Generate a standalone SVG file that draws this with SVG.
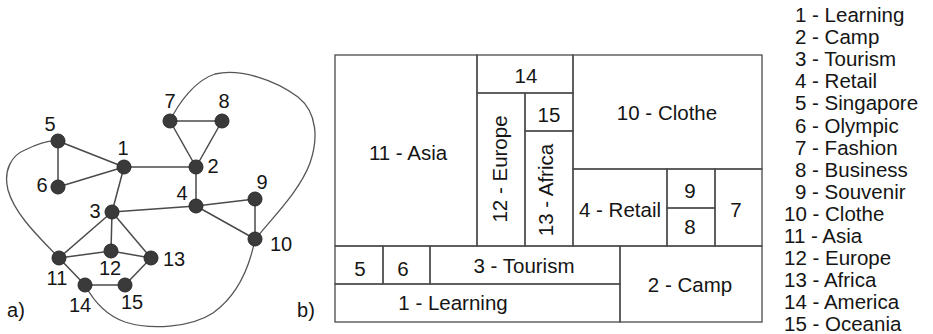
<svg xmlns="http://www.w3.org/2000/svg" width="933" height="334" viewBox="0 0 933 334">
<style>
text{font-family:"Liberation Sans",Arial,sans-serif;fill:#151515}
.gl{font-size:20px;text-anchor:middle}
.tm{font-size:20.5px;text-anchor:middle}
.lg{font-size:20.5px}
.edge{stroke:#4a4a4a;stroke-width:1.5;fill:none}
.hull{stroke:#555;stroke-width:1.3;fill:none}
.node{fill:#3a3a3a;stroke:#2a2a2a;stroke-width:1}
.cell{fill:none;stroke:#4a4a4a;stroke-width:1.3}
</style>
<rect width="933" height="334" fill="#fff"/>
<g id="connectors">
<path class="hull" d="M170,121 C178,104 195,80 215,74 C240,68 275,80 298,97 C318,113 318,140 310,163 C300,190 275,215 257,237"/>
<path class="hull" d="M255,239 C250,265 238,295 213,313 C190,328 150,330 125,322 C105,315 93,300 85,285"/>
<path class="hull" d="M59,258 C40,238 15,215 8,190 C3,170 12,155 25,150 C35,145 48,140 58,141"/>
<line class="edge" x1="58" y1="141" x2="124" y2="167"/>
<line class="edge" x1="58" y1="141" x2="58" y2="187"/>
<line class="edge" x1="58" y1="187" x2="124" y2="167"/>
<line class="edge" x1="124" y1="167" x2="196" y2="167"/>
<line class="edge" x1="124" y1="167" x2="112" y2="212"/>
<line class="edge" x1="196" y1="167" x2="170" y2="121"/>
<line class="edge" x1="196" y1="167" x2="222" y2="121"/>
<line class="edge" x1="170" y1="121" x2="222" y2="121"/>
<line class="edge" x1="196" y1="167" x2="196" y2="206"/>
<line class="edge" x1="196" y1="206" x2="112" y2="212"/>
<line class="edge" x1="196" y1="206" x2="255" y2="199"/>
<line class="edge" x1="196" y1="206" x2="255" y2="239"/>
<line class="edge" x1="255" y1="199" x2="255" y2="239"/>
<line class="edge" x1="112" y1="212" x2="59" y2="258"/>
<line class="edge" x1="112" y1="212" x2="111" y2="251"/>
<line class="edge" x1="112" y1="212" x2="151" y2="258"/>
<line class="edge" x1="59" y1="258" x2="111" y2="251"/>
<line class="edge" x1="111" y1="251" x2="151" y2="258"/>
<line class="edge" x1="59" y1="258" x2="85" y2="285"/>
<line class="edge" x1="151" y1="258" x2="125" y2="285"/>
<line class="edge" x1="85" y1="285" x2="125" y2="285"/>
</g>
<g id="n1"><circle class="node" cx="124" cy="167" r="7"/><text class="gl" x="123" y="155">1</text></g>
<g id="n2"><circle class="node" cx="196" cy="167" r="7"/><text class="gl" x="213" y="173">2</text></g>
<g id="n3"><circle class="node" cx="112" cy="212" r="7"/><text class="gl" x="95" y="218">3</text></g>
<g id="n4"><circle class="node" cx="196" cy="206" r="7"/><text class="gl" x="182" y="200">4</text></g>
<g id="n5"><circle class="node" cx="58" cy="141" r="7"/><text class="gl" x="50" y="131">5</text></g>
<g id="n6"><circle class="node" cx="58" cy="187" r="7"/><text class="gl" x="42" y="192">6</text></g>
<g id="n7"><circle class="node" cx="170" cy="121" r="7"/><text class="gl" x="170" y="108">7</text></g>
<g id="n8"><circle class="node" cx="222" cy="121" r="7"/><text class="gl" x="224" y="108">8</text></g>
<g id="n9"><circle class="node" cx="255" cy="199" r="7"/><text class="gl" x="262" y="189">9</text></g>
<g id="n10"><circle class="node" cx="255" cy="239" r="7"/><text class="gl" x="281" y="251">10</text></g>
<g id="n11"><circle class="node" cx="59" cy="258" r="7"/><text class="gl" x="57" y="285">11</text></g>
<g id="n12"><circle class="node" cx="111" cy="251" r="7"/><text class="gl" x="110" y="275">12</text></g>
<g id="n13"><circle class="node" cx="151" cy="258" r="7"/><text class="gl" x="174" y="266">13</text></g>
<g id="n14"><circle class="node" cx="85" cy="285" r="7"/><text class="gl" x="80" y="312">14</text></g>
<g id="n15"><circle class="node" cx="125" cy="285" r="7"/><text class="gl" x="132" y="309">15</text></g>
<text class="gl" x="16" y="317">a)</text>
<text class="gl" x="306" y="317">b)</text>
<g id="cell11"><rect class="cell" x="335" y="55" width="142" height="191"/><text class="tm" x="408" y="160">11 - Asia</text></g>
<g id="cell14"><rect class="cell" x="477" y="55" width="96" height="38"/><text class="tm" x="526" y="83">14</text></g>
<g id="cell12"><rect class="cell" x="477" y="93" width="48" height="153"/><text class="tm" transform="translate(507,169) rotate(-90)">12 - Europe</text></g>
<g id="cell15"><rect class="cell" x="525" y="93" width="48" height="38"/><text class="tm" x="549" y="122">15</text></g>
<g id="cell13"><rect class="cell" x="525" y="131" width="48" height="115"/><text class="tm" transform="translate(553,190) rotate(-90)">13 - Africa</text></g>
<g id="cell10"><rect class="cell" x="573" y="55" width="189" height="114"/><text class="tm" x="667" y="120">10 - Clothe</text></g>
<g id="cell4"><rect class="cell" x="573" y="169" width="94" height="77"/><text class="tm" x="620" y="217">4 - Retail</text></g>
<g id="cell9"><rect class="cell" x="667" y="169" width="48" height="39"/><text class="tm" x="690" y="198">9</text></g>
<g id="cell8"><rect class="cell" x="667" y="208" width="48" height="38"/><text class="tm" x="690" y="234">8</text></g>
<g id="cell7"><rect class="cell" x="715" y="169" width="47" height="77"/><text class="tm" x="736" y="217">7</text></g>
<g id="cell5"><rect class="cell" x="335" y="246" width="48" height="38"/><text class="tm" x="360" y="276">5</text></g>
<g id="cell6"><rect class="cell" x="383" y="246" width="47" height="38"/><text class="tm" x="403" y="276">6</text></g>
<g id="cell3"><rect class="cell" x="430" y="246" width="190" height="38"/><text class="tm" x="524" y="273">3 - Tourism</text></g>
<g id="cell1"><rect class="cell" x="335" y="284" width="285" height="38"/><text class="tm" x="453" y="310">1 - Learning</text></g>
<g id="cell2"><rect class="cell" x="620" y="246" width="142" height="76"/><text class="tm" x="690" y="292">2 - Camp</text></g>
<g id="legend" class="lg">
<text class="lg" x="795" y="22">1 - Learning</text>
<text class="lg" x="795" y="44.1">2 - Camp</text>
<text class="lg" x="795" y="66.2">3 - Tourism</text>
<text class="lg" x="795" y="88.3">4 - Retail</text>
<text class="lg" x="795" y="110.4">5 - Singapore</text>
<text class="lg" x="795" y="132.5">6 - Olympic</text>
<text class="lg" x="795" y="154.6">7 - Fashion</text>
<text class="lg" x="795" y="176.7">8 - Business</text>
<text class="lg" x="795" y="198.8">9 - Souvenir</text>
<text class="lg" x="784" y="220.9">10 - Clothe</text>
<text class="lg" x="784" y="243">11 - Asia</text>
<text class="lg" x="784" y="265.1">12 - Europe</text>
<text class="lg" x="784" y="287.2">13 - Africa</text>
<text class="lg" x="784" y="309.3">14 - America</text>
<text class="lg" x="784" y="331.4">15 - Oceania</text>
</g>
</svg>
